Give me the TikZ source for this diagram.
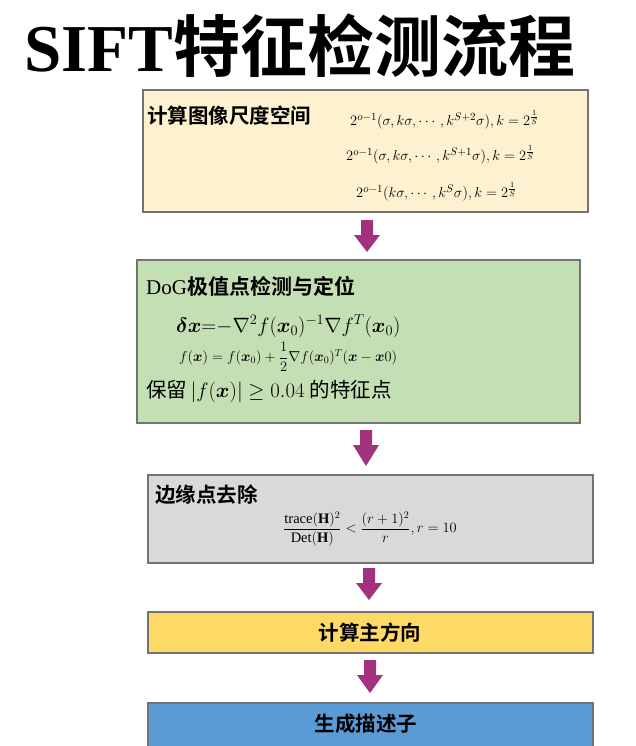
\documentclass[tikz,border=0pt]{standalone}
\usepackage{amsmath}
\usepackage{fontspec}
\setmainfont{Liberation Serif}
\newfontfamily\cjk{Noto Sans CJK SC}[BoldFont={Noto Sans CJK SC Bold}]
\begin{document}
\begin{tikzpicture}[x=1pt,y=-1pt,
  boxst/.style={draw=black!55,line width=1.2pt},
  lbl/.style={font=\cjk\bfseries\fontsize{20.5}{24}\selectfont,anchor=west,inner sep=0}]
\definecolor{pur}{HTML}{A2317E}
\useasboundingbox (0,0) rectangle (636,746);
\fill[white] (0,0) rectangle (636,746);
% title
\node[anchor=west,inner sep=0] (title) at (24,46) {\fontsize{67}{70}\selectfont\bfseries SIFT\cjk 特征检测流程};
% boxes
\draw[boxst,fill={rgb,255:red,253;green,241;blue,207}] (143,90) rectangle (588,212);
\draw[boxst,fill={rgb,255:red,197;green,223;blue,180}] (137,260) rectangle (580,423);
\draw[boxst,fill={rgb,255:red,217;green,217;blue,217}] (148,475) rectangle (593,563);
\draw[boxst,fill={rgb,255:red,255;green,217;blue,102}] (148,612) rectangle (593,653);
\draw[boxst,fill={rgb,255:red,91;green,155;blue,213}] (148,703) rectangle (593,752);
% arrows
\foreach \cx/\ya/\yb in {367/220/252, 366/430/466, 369/568/600, 370/660/693}{
  \fill[pur] (\cx-6,\ya) -- (\cx+6,\ya) -- (\cx+6,\ya+15) -- (\cx+13,\ya+15) -- (\cx,\yb) -- (\cx-13,\ya+15) -- (\cx-6,\ya+15) -- cycle;}
% box1
\node[lbl] (t1) at (147,116) {计算图像尺度空间};
\node[anchor=west,inner sep=0] (f1) at (350,120) {\fontsize{15.5}{18}\selectfont $2^{o-1}(\sigma,k\sigma,\cdots,k^{S+2}\sigma),k=2^{\frac{1}{S}}$};
\node[anchor=west,inner sep=0] (f2) at (346,155) {\fontsize{15.5}{18}\selectfont $2^{o-1}(\sigma,k\sigma,\cdots,k^{S+1}\sigma),k=2^{\frac{1}{S}}$};
\node[anchor=west,inner sep=0] (f3) at (356,192) {\fontsize{15.5}{18}\selectfont $2^{o-1}(k\sigma,\cdots,k^{S}\sigma),k=2^{\frac{1}{S}}$};
% box2
\node[anchor=west,inner sep=0] (t2) at (146,286) {\fontsize{21}{24}\selectfont DoG{\cjk\bfseries 极值点检测与定位}};
\node[anchor=west,inner sep=0] (g1) at (176,326) {\fontsize{19.5}{22}\selectfont $\boldsymbol{\delta x}{=}{-}\nabla^2 f(\boldsymbol{x}_0)^{-1}\nabla f^{T}(\boldsymbol{x}_0)$};
\node[anchor=west,inner sep=0] (g2) at (179,357) {\fontsize{14}{16}\selectfont $f(\boldsymbol{x})=f(\boldsymbol{x}_0)+\dfrac{1}{2}\nabla f(\boldsymbol{x}_0)^{T}(\boldsymbol{x}-\boldsymbol{x}0)$};
\node[anchor=west,inner sep=0] (g3) at (146,391) {\fontsize{20.5}{24}\selectfont {\cjk 保留}$\,\lvert f(\boldsymbol{x})\rvert\ge 0.04$ {\cjk 的特征点}};
% box3
\node[lbl] (t3) at (155,495) {边缘点去除};
\node[anchor=west,inner sep=0] (h1) at (283,529) {\fontsize{14.5}{17}\selectfont $\dfrac{\mathrm{trace}(\mathbf{H})^2}{\mathrm{Det}(\mathbf{H})}<\dfrac{(r+1)^2}{r},r=10$};
% box4,5
\node[font=\cjk\bfseries\fontsize{20.5}{24}\selectfont] (t4) at (370,633) {计算主方向};
\node[font=\cjk\bfseries\fontsize{20.5}{24}\selectfont] (t5) at (366,724) {生成描述子};
\end{tikzpicture}
\end{document}
